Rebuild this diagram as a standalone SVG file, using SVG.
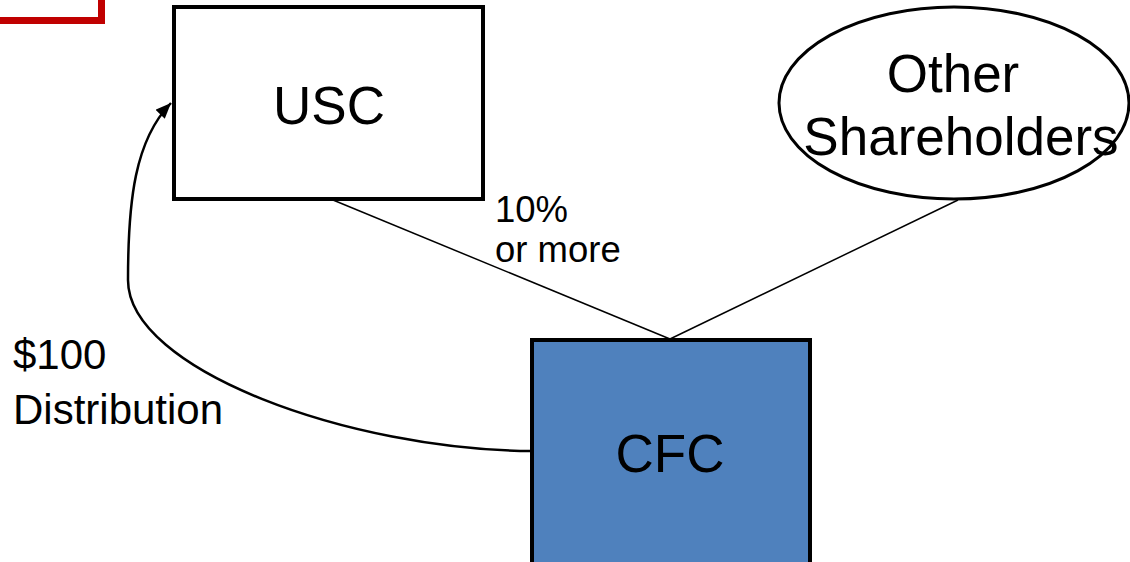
<svg xmlns="http://www.w3.org/2000/svg" width="1130" height="562" viewBox="0 0 1130 562">
<style>
  text { font-family: "Liberation Sans", Arial, sans-serif; fill: #000; }
  .big { font-size: 53px; text-anchor: middle; }
  .lbl { font-size: 42px; }
  .sm { font-size: 36.5px; }
  .conn { fill: none; stroke: #000; stroke-width: 1.5; }
  .box { stroke: #000; stroke-width: 4; }
</style>
<defs>
  <marker id="arr" viewBox="0 0 12 10" refX="12" refY="5" markerWidth="16" markerHeight="13" markerUnits="userSpaceOnUse" orient="auto">
    <path d="M0,0 L12,5 L0,10 z" fill="#000"/>
  </marker>
</defs>
<rect width="1130" height="562" fill="#fff"/>
<g id="legend">
  <rect x="-10" y="-30" width="111.5" height="50.5" fill="#fff" stroke="#C00000" stroke-width="7"/>
</g>
<g id="connectors">
  <line class="conn" x1="333" y1="200" x2="670" y2="339"/>
  <line class="conn" x1="958" y1="200" x2="670" y2="339"/>
  <path class="conn" style="stroke-width:2.5" d="M532,451 C350,450 128,370 128,280 C128,200 135,140 171,103" marker-end="url(#arr)"/>
</g>
<g id="usc">
  <rect class="box" x="174" y="7" width="309" height="192" fill="#fff"/>
  <text class="big" x="329" y="124">USC</text>
</g>
<g id="other">
  <ellipse cx="954" cy="103" rx="175" ry="96" fill="#fff" stroke="#000" stroke-width="3"/>
  <text class="big" x="953" y="92">Other</text>
  <text class="big" x="961" y="155">Shareholders</text>
</g>
<g id="cfc">
  <rect class="box" x="532" y="340" width="278" height="250" fill="#4F81BD"/>
  <text class="big" x="670" y="472">CFC</text>
</g>
<g id="labels">
  <text class="sm" x="495" y="222">10%</text>
  <text class="sm" x="495" y="262">or more</text>
  <text class="lbl" x="13" y="369">$100</text>
  <text class="lbl" x="13" y="424">Distribution</text>
</g>
</svg>
